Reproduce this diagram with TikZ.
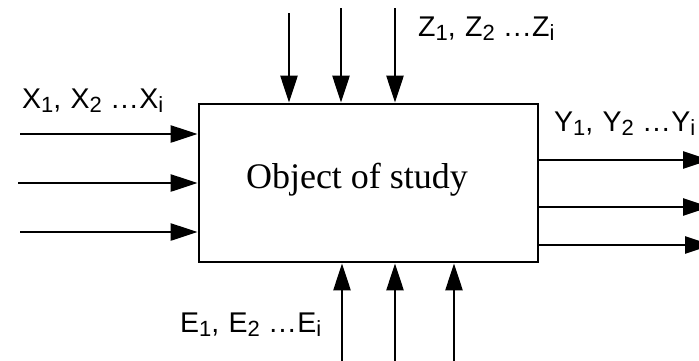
\documentclass[tikz,border=0pt]{standalone}
\usepackage{fontspec}
\setmainfont{Liberation Serif}
\newfontfamily\lblfont[LetterSpace=5]{Liberation Sans}
\usetikzlibrary{arrows.meta}
\newcommand\lsub[1]{\raisebox{-0.3ex}{\fontsize{22pt}{23pt}\selectfont #1}}
\tikzset{
  conn/.style={line width=2.6pt, -{Triangle[length=27pt,width=17pt]}},
  lbl/.style={font=\lblfont\fontsize{28.5pt}{30pt}\selectfont, inner sep=0pt, anchor=base west},
  obj/.style={draw, line width=2.8pt, minimum width=339pt, minimum height=158pt, inner sep=0pt}
}
\begin{document}
\begin{tikzpicture}[x=1pt,y=-1pt]
\useasboundingbox (0,0) rectangle (699,360);
\node[obj] (box) at (368.5,183) {};
\node[font=\fontsize{36pt}{38pt}\selectfont, anchor=base] (title) at (357,188) {Object of study};
% inputs X
\coordinate (x1) at (20,134); \coordinate (x2) at (18,183); \coordinate (x3) at (20,232);
\draw[conn] (x1) -- (x1 -| box.west);
\draw[conn] (x2) -- (x2 -| box.west);
\draw[conn] (x3) -- (x3 -| box.west);
% inputs Z
\coordinate (z1) at (289,13); \coordinate (z2) at (341,8); \coordinate (z3) at (395,8);
\draw[conn] (z1) -- (z1 |- box.north);
\draw[conn] (z2) -- (z2 |- box.north);
\draw[conn] (z3) -- (z3 |- box.north);
% outputs Y
\coordinate (y1) at (710,160); \coordinate (y2) at (710,207); \coordinate (y3) at (712,245);
\draw[conn] (y1 -| box.east) -- (y1);
\draw[conn] (y2 -| box.east) -- (y2);
\draw[conn] (y3 -| box.east) -- (y3);
% disturbances E
\coordinate (e1) at (342,362); \coordinate (e2) at (395,362); \coordinate (e3) at (454,362);
\draw[conn] (e1) -- (e1 |- box.south);
\draw[conn] (e2) -- (e2 |- box.south);
\draw[conn] (e3) -- (e3 |- box.south);
% labels
\node[lbl] (xl) at (22,108) {X\lsub{1}, X\lsub{2} ...X\lsub{i}};
\node[lbl] (zl) at (418,36) {Z\lsub{1}, Z\lsub{2} ...Z\lsub{i}};
\node[lbl] (yl) at (554,131) {Y\lsub{1}, Y\lsub{2} ...Y\lsub{i}};
\node[lbl] (el) at (180,332) {E\lsub{1}, E\lsub{2} ...E\lsub{i}};
\end{tikzpicture}
\end{document}
